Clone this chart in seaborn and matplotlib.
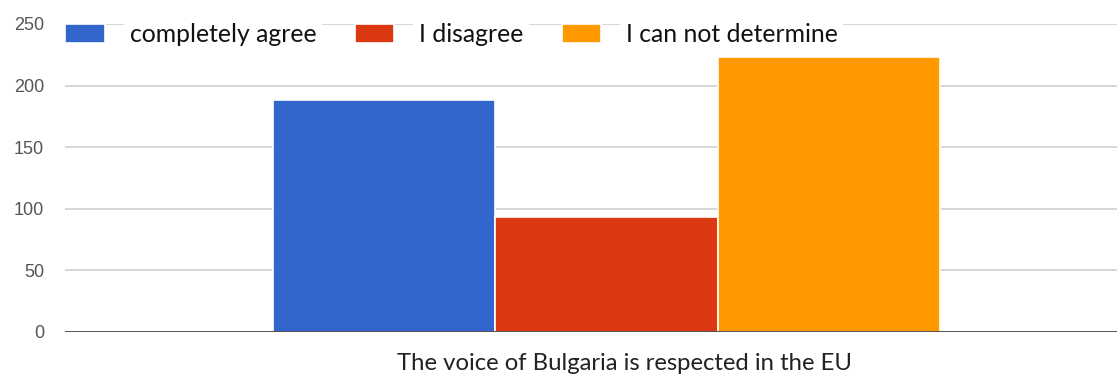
import matplotlib
matplotlib.use("Agg")
import matplotlib.pyplot as plt
import matplotlib.transforms as mtransforms
import seaborn as sns
import pandas as pd

# Survey answers for one statement
question = ["The voice of Bulgaria is respected in the EU"]
answers = ["completely agree", "I disagree", "I can not determine"]
counts = [188, 93, 223]
colors = ["#3366CC", "#DC3912", "#FF9900"]
y_ticks = [0, 50, 100, 150, 200, 250]

df = pd.DataFrame({
    "question": question * len(answers),
    "answer": answers,
    "count": counts,
})

sns.set_theme(style="white")
plt.rcParams["font.family"] = ["Lato", "DejaVu Sans"]

W, H = 1117, 377
fig = plt.figure(figsize=(W / 100, H / 100), dpi=100)
ax = fig.add_axes([65 / W, 1 - 332 / H, 1 - 65 / W, (332 - 24) / H])

sns.barplot(data=df, x="question", y="count", hue="answer",
            hue_order=answers, palette=colors, width=0.8,
            edgecolor="white", linewidth=1.2, saturation=1,
            ax=ax, zorder=3)

ax.set_xlim(-0.649, 0.612)
ax.set_ylim(0, 250)
ax.set_yticks(y_ticks)
ax.set_yticklabels([str(v) for v in y_ticks], family="Liberation Sans",
                   fontsize=13, color="#555555")
ax.tick_params(axis="y", length=0, pad=15)
ax.tick_params(axis="x", length=0, pad=15, labelsize=17.2, labelcolor="#222222")
# category label sits a little right of the bar group
shift = mtransforms.ScaledTranslation(18 / 100, 0, fig.dpi_scale_trans)
for lbl in ax.get_xticklabels():
    lbl.set_transform(lbl.get_transform() + shift)
ax.set_xlabel("")
ax.set_ylabel("")

for v in y_ticks[1:]:
    ax.axhline(v, color="#D0D0D0", lw=1.2, zorder=1)
ax.axhline(0, color="#444444", lw=2, zorder=4)
for s in ax.spines.values():
    s.set_visible(False)

handles, labels = ax.get_legend_handles_labels()
ax.get_legend().remove()
leg = fig.legend(handles, labels, loc="upper left",
                 bbox_to_anchor=(48 / W, 1 - 6 / H), ncol=3, frameon=False,
                 fontsize=17.8, handlelength=1.6, handleheight=0.8,
                 handletextpad=1.0, columnspacing=1.55, borderpad=0.2)
for t in leg.get_texts():
    t.set_color("#111111")
    t.set_bbox(dict(facecolor="white", edgecolor="none", pad=4))

fig.savefig("out.png", dpi=100)
